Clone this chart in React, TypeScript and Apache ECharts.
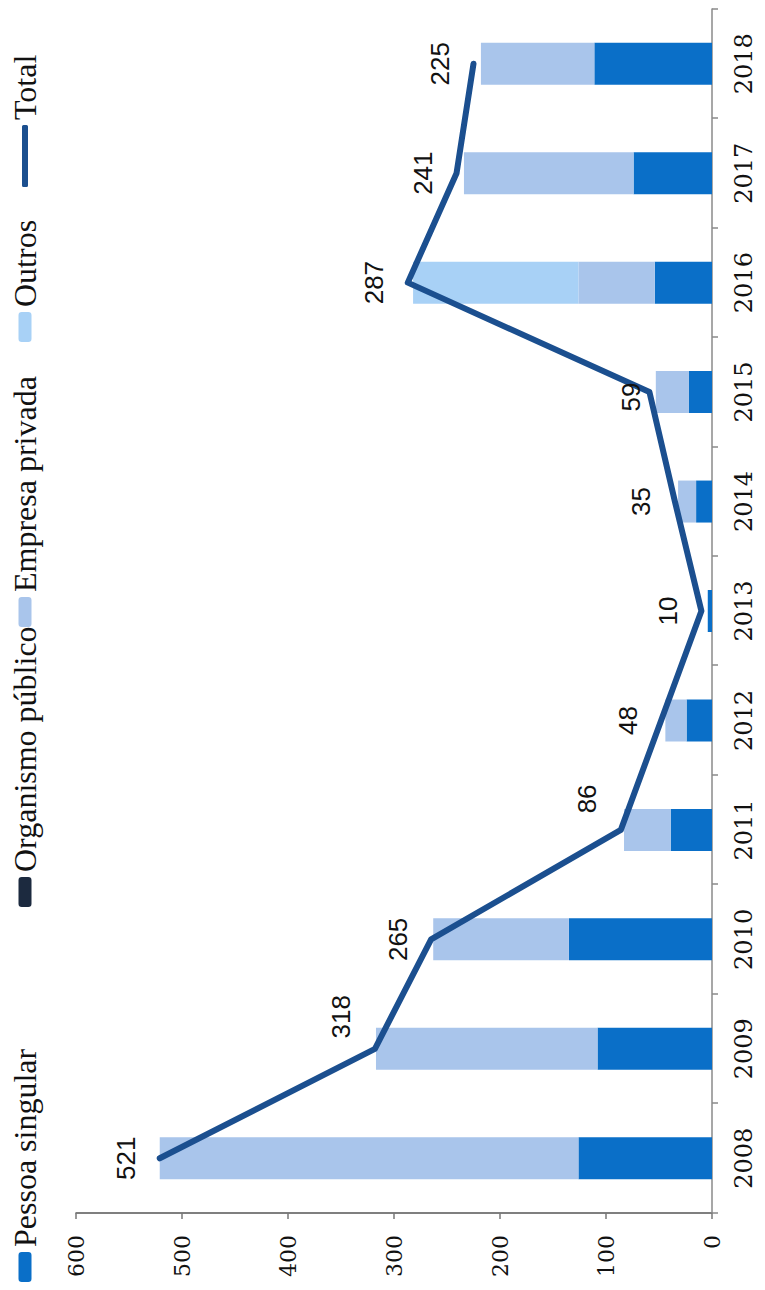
import React, { useEffect, useRef } from "react";
import * as echarts from "echarts";

// Years on the category axis
const years = ["2008", "2009", "2010", "2011", "2012", "2013", "2014", "2015", "2016", "2017", "2018"];

// Stacked components per year
const pessoaSingular = [126, 108, 135, 39, 24, 4, 15, 22, 54, 74, 111];
const organismoPublico = [0, 0, 0, 0, 0, 0, 0, 0, 0, 0, 0];
const empresaPrivada = [395, 209, 128, 44, 20, 0, 17, 31, 72, 160, 107];
const outros = [0, 0, 0, 0, 0, 0, 0, 0, 156, 0, 0];

// Annual total (line)
const total = [521, 318, 265, 86, 48, 10, 35, 59, 287, 241, 225];

// Value axis
const valueMin = 0;
const valueMax = 600;
const valueStep = 100;

const W = 1290;
const H = 765;

const serifFont = "'DejaVu Serif', serif";
const legendFont = "'Liberation Serif', 'Times New Roman', serif";
const sansFont = "'Liberation Sans', Arial, sans-serif";

const colors = {
  pessoa: "#0a6fc8",
  organismo: "#1c2a3f",
  empresa: "#a9c5eb",
  outros: "#a8d1f6",
  total: "#1b4f8f",
};

function legendAt(name: string, left: number, extra: Record<string, unknown> = {}) {
  return {
    data: [name],
    left,
    top: 4,
    itemWidth: 30,
    itemHeight: 13,
    itemGap: 0,
    textStyle: { fontFamily: legendFont, fontSize: 32, color: "#111" },
    ...extra,
  };
}

function buildOption() {
  const labelOffsets: Record<number, number[]> = { 1: [32, 0], 3: [31, 0], 7: [-5, 15] };
  const totalData = total.map((v, i) =>
    labelOffsets[i] ? { value: v, label: { offset: labelOffsets[i] } } : v
  );

  return {
    animation: false,
    backgroundColor: "#ffffff",
    legend: [
      legendAt("Pessoa singular", 3),
      legendAt("Organismo público", 378),
      legendAt("Empresa privada", 658),
      legendAt("Outros", 943),
      legendAt("Total", 1098, {
        data: [{ name: "Total", icon: "roundRect" }],
        itemWidth: 62,
        itemHeight: 6,
        itemStyle: { borderWidth: 0 },
      }),
    ],
    grid: { left: 77, right: 9, top: 76, bottom: 53, containLabel: false },
    xAxis: {
      type: "category",
      data: years,
      boundaryGap: true,
      axisLine: { show: true, lineStyle: { color: "#8a8a8a", width: 1.5 } },
      axisTick: { show: true, length: 6, lineStyle: { color: "#8a8a8a", width: 1.5 } },
      axisLabel: {
        margin: 20,
        fontFamily: serifFont,
        fontSize: 24,
        color: "#111",
      },
    },
    yAxis: {
      type: "value",
      min: valueMin,
      max: valueMax,
      interval: valueStep,
      splitLine: { show: false },
      axisLine: { show: true, lineStyle: { color: "#555", width: 1.5 } },
      axisTick: { show: true, length: 6, lineStyle: { color: "#777", width: 1.5 } },
      axisLabel: {
        margin: 22,
        fontFamily: serifFont,
        fontSize: 22,
        color: "#111",
      },
    },
    series: [
      {
        name: "Pessoa singular",
        type: "bar",
        stack: "all",
        barWidth: 42,
        itemStyle: { color: colors.pessoa },
        data: pessoaSingular,
      },
      {
        name: "Organismo público",
        type: "bar",
        stack: "all",
        barWidth: 42,
        itemStyle: { color: colors.organismo },
        data: organismoPublico,
      },
      {
        name: "Empresa privada",
        type: "bar",
        stack: "all",
        barWidth: 42,
        itemStyle: { color: colors.empresa },
        data: empresaPrivada,
      },
      {
        name: "Outros",
        type: "bar",
        stack: "all",
        barWidth: 42,
        itemStyle: { color: colors.outros },
        data: outros,
      },
      {
        name: "Total",
        type: "line",
        symbol: "circle",
        symbolSize: 1,
        showSymbol: true,
        z: 5,
        itemStyle: { color: colors.total },
        lineStyle: { color: colors.total, width: 6, cap: "round", join: "round" },
        label: {
          show: true,
          position: "top",
          distance: 20,
          fontFamily: sansFont,
          fontSize: 26,
          color: "#111",
        },
        data: totalData,
      },
    ],
  };
}

export default function App() {
  const ref = useRef<HTMLDivElement>(null);

  useEffect(() => {
    if (!ref.current) return;
    const chart = echarts.init(ref.current, undefined, { renderer: "svg", width: W, height: H });
    chart.setOption(buildOption() as any);
    return () => chart.dispose();
  }, []);

  return (
    <div
      style={{
        position: "fixed",
        left: 0,
        top: 0,
        width: H,
        height: W,
        overflow: "hidden",
        background: "#fff",
      }}
    >
      <div
        ref={ref}
        style={{
          position: "absolute",
          left: 0,
          top: 0,
          width: W,
          height: H,
          transformOrigin: "0 0",
          transform: `translate(0px, ${W}px) rotate(-90deg)`,
        }}
      />
    </div>
  );
}
